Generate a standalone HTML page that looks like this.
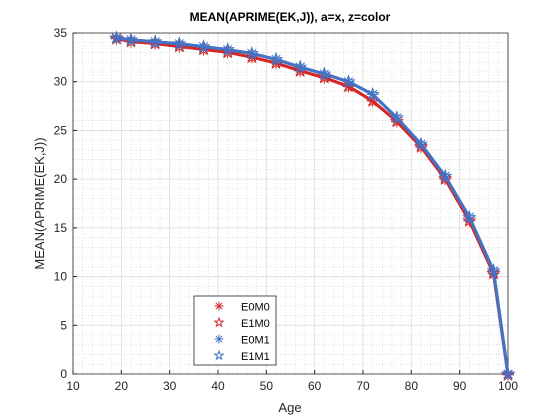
<!DOCTYPE html>
<html><head><meta charset="utf-8"><style>body{margin:0;background:#fff}svg{display:block;font-family:"Liberation Sans",sans-serif}</style></head>
<body>
<svg id="c" width="560" height="420"></svg>
<script>
const ages=[19,22,27,32,37,42,47,52,57,62,67,72,77,82,87,92,97,100];
const e0m0=[34.5,34.2,34.0,33.7,33.4,33.1,32.6,32.0,31.2,30.5,29.6,28.1,26.0,23.4,20.1,15.8,10.4,0];
const e1m0=[34.5,34.2,34.0,33.7,33.4,33.1,32.6,32.0,31.2,30.5,29.6,28.1,26.0,23.4,20.1,15.8,10.4,0];
const e0m1=[34.5,34.3,34.1,33.9,33.6,33.3,32.9,32.3,31.5,30.8,30.0,28.7,26.3,23.6,20.3,16.1,10.6,0];
const e1m1=[34.5,34.3,34.1,33.9,33.6,33.3,32.9,32.3,31.5,30.8,30.0,28.7,26.3,23.6,20.3,16.1,10.6,0];
const xTicks=[10,20,30,40,50,60,70,80,90,100];
const yTicks=[0,5,10,15,20,25,30,35];
const L=73,R=508,T=33,B=374;
const X=v=>L+(v-10)/90*(R-L), Y=v=>B-v/35*(B-T);
const s=document.getElementById('c');const NS='http://www.w3.org/2000/svg';
function mk(t,a,txt){const e=document.createElementNS(NS,t);for(const k in a)e.setAttribute(k,a[k]);if(txt!=null)e.textContent=txt;s.appendChild(e);return e;}
let e=mk('rect',{x:L,y:T,width:R-L,height:B-T,fill:'#fff'});

for(let v=10;v<=100;v+=2){if(v%10)mk('line',{x1:X(v),x2:X(v),y1:T,y2:B,stroke:'#ccc','stroke-width':0.6,'stroke-dasharray':'1,2'});}
for(let v=0;v<=35;v+=1){if(v%5)mk('line',{x1:L,x2:R,y1:Y(v),y2:Y(v),stroke:'#ccc','stroke-width':0.6,'stroke-dasharray':'1,2'});}
xTicks.forEach(v=>{mk('line',{x1:X(v),x2:X(v),y1:T,y2:B,stroke:'#dcdcdc','stroke-width':0.8});
 mk('line',{x1:X(v),x2:X(v),y1:B,y2:B-4,stroke:'#262626'});
 e=mk('text',{x:X(v),y:B+16,'text-anchor':'middle','font-size':12,fill:'#262626'},v);
 });
yTicks.forEach(v=>{mk('line',{x1:L,x2:R,y1:Y(v),y2:Y(v),stroke:'#dcdcdc','stroke-width':0.8});
 mk('line',{x1:L,x2:L+4,y1:Y(v),y2:Y(v),stroke:'#262626'});
 e=mk('text',{x:L-6,y:Y(v)+4,'text-anchor':'end','font-size':12,fill:'#262626'},v);
 });
mk('path',{d:`M${L},${T}H${R}V${B}H${L}Z`,fill:'none',stroke:'#262626','stroke-width':0.8});
function star(x,y,c,n,l){l=l||6;const g=mk('g',{stroke:c,'stroke-width':1,fill:'none'});
 for(let i=0;i<4;i++){const a=i*Math.PI/4;const ln=document.createElementNS(NS,'line');ln.setAttribute('x1',x-l*Math.cos(a));ln.setAttribute('y1',y-l*Math.sin(a));ln.setAttribute('x2',x+l*Math.cos(a));ln.setAttribute('y2',y+l*Math.sin(a));g.appendChild(ln);}}
function pent(x,y,c,n,r){r=r||6;let p=[];for(let i=0;i<10;i++){const rr=i%2?r*0.4:r,a=-Math.PI/2+i*Math.PI/5;p.push((x+rr*Math.cos(a)).toFixed(1)+','+(y+rr*Math.sin(a)).toFixed(1));}
 const q=mk('polygon',{points:p.join(' '),fill:'none',stroke:c,'stroke-width':1});}
const red='#d62728',blue='#4472c4';
function series(vals,c,w,mark,n,dy){const d=vals.map((v,i)=>(i?'L':'M')+X(ages[i])+','+(Y(v)+dy)).join('');
 const p=mk('path',{d,fill:'none',stroke:c,'stroke-width':w,'stroke-linejoin':'round'});
 vals.forEach((v,i)=>mark(X(ages[i]),Y(v)+dy,c,n+'-marker'));}
series(e0m0,red,3,star,'e0m0',0.8);
series(e1m0,red,3,pent,'e1m0',0.8);
series(e0m1,blue,3,star,'e0m1',0);
series(e1m1,blue,3,pent,'e1m1',0);
e=mk('text',{x:290,y:21,'text-anchor':'middle','font-size':12,'font-weight':'bold',fill:'#000'},'MEAN(APRIME(EK,J)), a=x, z=color');

e=mk('text',{x:290,y:412,'text-anchor':'middle','font-size':13,fill:'#262626'},'Age');

e=mk('text',{x:0,y:0,'text-anchor':'middle','font-size':13,fill:'#262626',transform:`translate(44,${(T+B)/2}) rotate(-90)`},'MEAN(APRIME(EK,J))');

e=mk('rect',{x:194,y:296,width:82,height:69,fill:'#fff',stroke:'#262626','stroke-width':0.8});

const leg=[['E0M0',red,star],['E1M0',red,pent],['E0M1',blue,star],['E1M1',blue,pent]];
leg.forEach((l,i)=>{const y=306+i*16.5;l[2](219,y,l[1],'legend-marker',4.5);
 e=mk('text',{x:241,y:y+4.5,'font-size':11,fill:'#000'},l[0]);});
</script>
</body></html>
